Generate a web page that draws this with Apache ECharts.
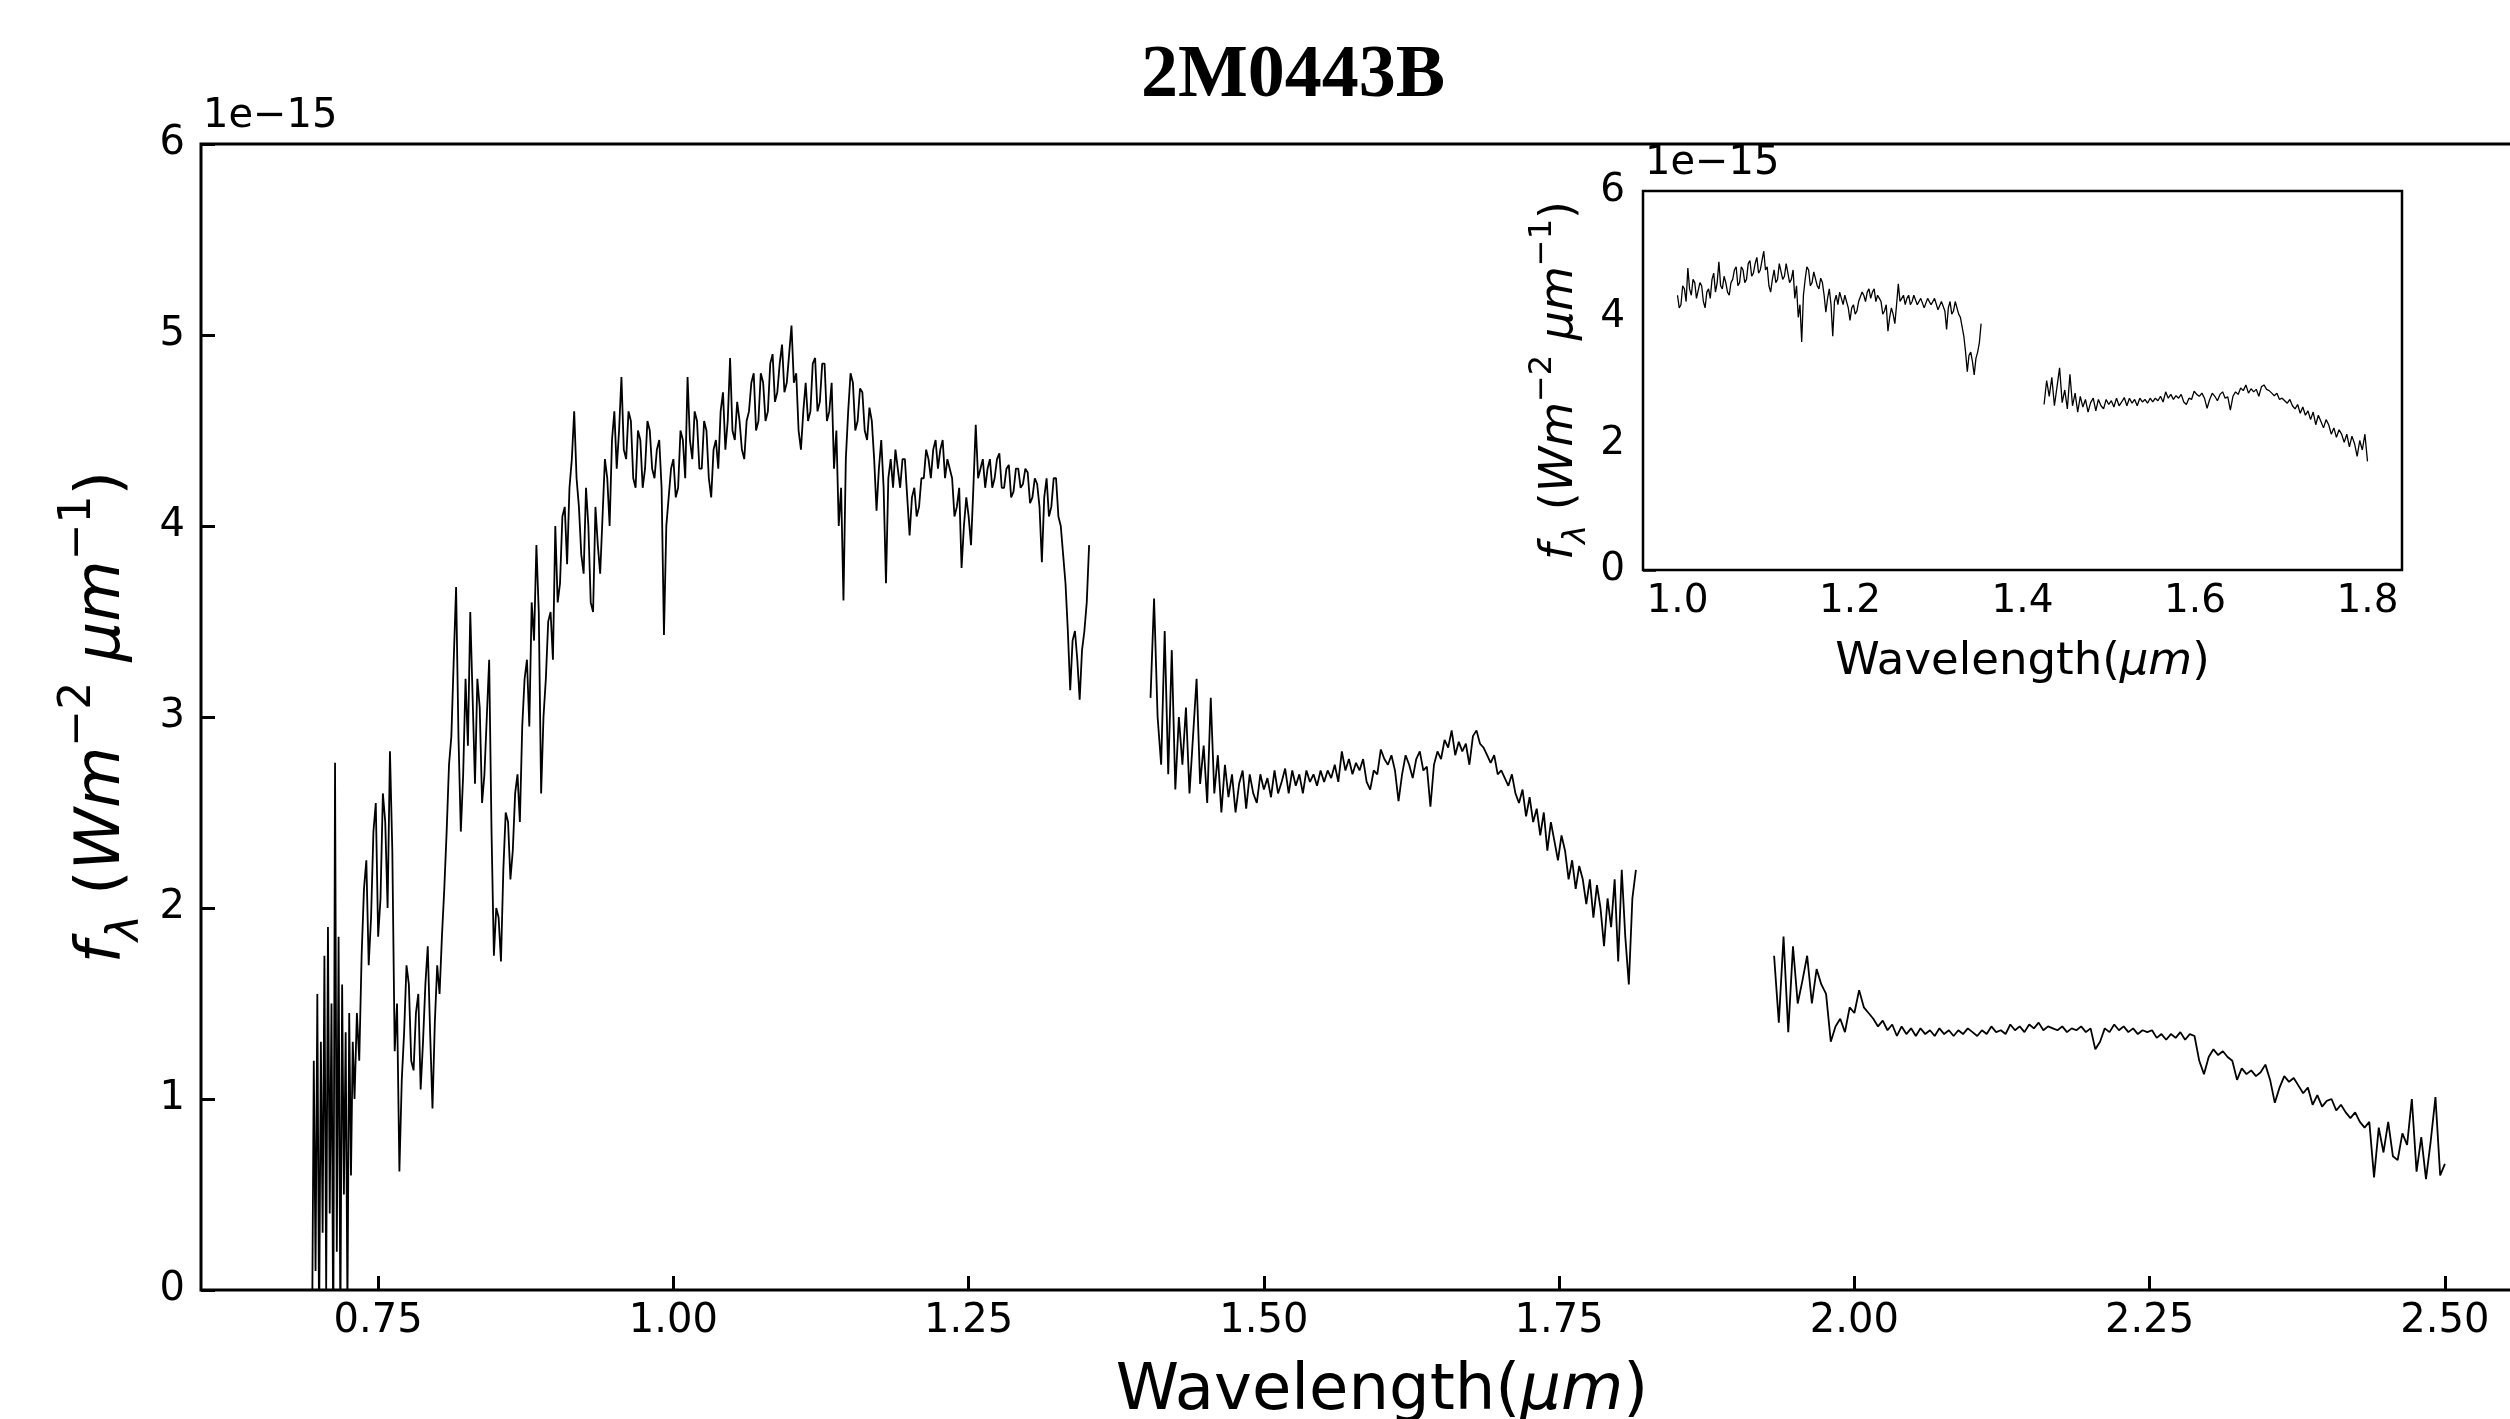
<!DOCTYPE html>
<html>
<head>
<meta charset="utf-8">
<script src="https://cdn.jsdelivr.net/npm/echarts@6/dist/echarts.min.js"></script>
<style>
html,body{margin:0;padding:0;background:#ffffff;}
#chart{width:2510px;height:1419px;}
</style>
</head>
<body>
<div id="chart"></div>
<script>
// ---------------- DATA ----------------
const chartTitle = '2M0443B';
const offsetLabel = '1e\u221215';
const mainXTicks = [0.75, 1.00, 1.25, 1.50, 1.75, 2.00, 2.25, 2.50];
const insetXTicks = [1.0, 1.2, 1.4, 1.6, 1.8];

// flux in units of 1e-15 W m^-2 um^-1, wavelength grid = start + i*step (um)
const seg1aStart = 0.694, seg1aStep = 0.0015;
const seg1a = [-0.3, 1.2, 0.1, 1.55, -0.2, 1.3, 0.3, 1.75, 0.0, 1.9,
  0.4, 1.5, -0.3, 2.76, 0.2, 1.85, -0.2, 1.6, 0.5, 1.35,
  -0.1, 1.45, 0.6, 1.3, 1.0];

const seg1bStart = 0.732, seg1bStep = 0.002;
const seg1b = [
  1.45, 1.2, 1.75, 2.1, 2.25, 1.7, 1.95, 2.4, 2.55, 1.85,
  2.05, 2.6, 2.45, 2.0, 2.82, 2.3, 1.25, 1.5, 0.62, 1.1,
  1.35, 1.7, 1.6, 1.2, 1.15, 1.45, 1.55, 1.05, 1.3, 1.6,
  1.8, 1.35, 0.95, 1.4, 1.7, 1.55, 1.85, 2.1, 2.4, 2.75,
  2.9, 3.3, 3.68, 2.9, 2.4, 2.7, 3.2, 2.85, 3.55, 3.1,
  2.65, 3.2, 3.05, 2.55, 2.7, 3.0, 3.3, 2.4, 1.75, 2.0,
  1.95, 1.72, 2.2, 2.5, 2.45, 2.15, 2.3, 2.6, 2.7, 2.45,
  2.95, 3.2, 3.3, 2.95, 3.6, 3.4, 3.9, 3.55, 2.6, 3.0,
  3.2, 3.5, 3.55, 3.3, 4.0, 3.6, 3.7, 4.05, 4.1, 3.8,
  4.2, 4.35, 4.6, 4.25, 4.1, 3.85, 3.75, 4.2, 4.0, 3.6,
  3.55, 4.1, 3.9, 3.75, 4.05, 4.35, 4.25, 4.0, 4.45, 4.6,
  4.3, 4.5, 4.78, 4.4, 4.35, 4.6, 4.55, 4.25, 4.2, 4.5,
  4.45, 4.2, 4.3, 4.55, 4.5, 4.3, 4.25, 4.4, 4.45, 4.2,
  3.43, 4.0, 4.15, 4.3, 4.35, 4.15, 4.2, 4.5, 4.45, 4.25,
  4.78, 4.45, 4.35, 4.6, 4.55, 4.3, 4.3, 4.55, 4.5, 4.25,
  4.15, 4.4, 4.45, 4.3, 4.6, 4.7, 4.4, 4.55, 4.88, 4.5,
  4.45, 4.65, 4.55, 4.4, 4.35, 4.55, 4.6, 4.75, 4.8, 4.5,
  4.55, 4.8, 4.75, 4.55, 4.6, 4.85, 4.9, 4.65, 4.7, 4.85,
  4.95, 4.7, 4.75, 4.9, 5.05, 4.75, 4.8, 4.5, 4.4, 4.6,
  4.75, 4.55, 4.6, 4.85, 4.88, 4.6, 4.65, 4.85, 4.85, 4.55,
  4.6, 4.75, 4.3, 4.5, 4.0, 4.2, 3.61, 4.35, 4.6, 4.8,
  4.75, 4.5, 4.55, 4.72, 4.7, 4.5, 4.45, 4.62, 4.55, 4.35,
  4.08, 4.3, 4.45, 4.2, 3.7, 4.25, 4.35, 4.2, 4.4, 4.3,
  4.2, 4.35, 4.35, 4.15, 3.95, 4.15, 4.2, 4.05, 4.1, 4.25,
  4.25, 4.4, 4.35, 4.25, 4.4, 4.45, 4.3, 4.4, 4.45, 4.25,
  4.35, 4.3, 4.25, 4.05, 4.1, 4.2, 3.78, 4.0, 4.15, 4.05,
  3.9, 4.2, 4.53, 4.25, 4.3, 4.35, 4.2, 4.3, 4.35, 4.2,
  4.25, 4.35, 4.38, 4.2, 4.2, 4.3, 4.32, 4.15, 4.18, 4.3,
  4.3, 4.2, 4.22, 4.3, 4.28, 4.12, 4.15, 4.25, 4.22, 4.1,
  3.81, 4.15, 4.25, 4.05, 4.1, 4.25, 4.25, 4.05, 4.0, 3.85,
  3.7, 3.45, 3.14, 3.4, 3.45, 3.3, 3.09, 3.35, 3.45, 3.6,
  3.9];

const seg2Start = 1.404, seg2Step = 0.003;
const seg2 = [
  3.1, 3.62, 3.0, 2.75, 3.45, 2.7, 3.35, 2.62, 3.0, 2.75,
  3.05, 2.6, 2.9, 3.2, 2.65, 2.85, 2.55, 3.1, 2.6, 2.8,
  2.5, 2.75, 2.58, 2.7, 2.5, 2.65, 2.72, 2.52, 2.7, 2.6,
  2.55, 2.7, 2.62, 2.68, 2.58, 2.72, 2.6, 2.66, 2.73, 2.6,
  2.72, 2.64, 2.7, 2.6, 2.72, 2.66, 2.7, 2.64, 2.72, 2.66,
  2.72, 2.68, 2.75, 2.66, 2.82, 2.72, 2.78, 2.7, 2.76, 2.72,
  2.78, 2.66, 2.62, 2.72, 2.7, 2.83, 2.78, 2.75, 2.8, 2.72,
  2.56, 2.7, 2.8, 2.75, 2.68, 2.78, 2.82, 2.72, 2.74, 2.53,
  2.75, 2.82, 2.78, 2.88, 2.84, 2.93, 2.8, 2.87, 2.82, 2.86,
  2.75, 2.9, 2.93, 2.86, 2.84, 2.8, 2.76, 2.8, 2.7, 2.72,
  2.68, 2.64, 2.7, 2.6, 2.55, 2.62, 2.48, 2.58, 2.45, 2.52,
  2.38, 2.5, 2.3, 2.45, 2.35, 2.25, 2.38, 2.3, 2.15, 2.25,
  2.1, 2.22, 2.15, 2.02, 2.15, 1.95, 2.12, 2.0, 1.8, 2.05,
  1.9, 2.15, 1.72, 2.2, 1.85, 1.6, 2.05, 2.2];

const seg3Start = 1.932, seg3Step = 0.004;
const seg3 = [
  1.75, 1.4, 1.85, 1.35, 1.8, 1.5, 1.62, 1.75, 1.5, 1.68,
  1.6, 1.55, 1.3, 1.38, 1.42, 1.35, 1.48, 1.45, 1.57, 1.48,
  1.45, 1.42, 1.38, 1.41, 1.36, 1.39, 1.33, 1.38, 1.34, 1.37,
  1.33, 1.37, 1.34, 1.36, 1.33, 1.37, 1.34, 1.36, 1.33, 1.36,
  1.34, 1.37, 1.35, 1.33, 1.36, 1.34, 1.38, 1.35, 1.36, 1.34,
  1.39, 1.36, 1.38, 1.35, 1.39, 1.37, 1.4, 1.36, 1.38, 1.37,
  1.36, 1.38, 1.35, 1.37, 1.36, 1.38, 1.35, 1.37, 1.26, 1.3,
  1.37, 1.35, 1.39, 1.36, 1.38, 1.35, 1.37, 1.34, 1.36, 1.35,
  1.36, 1.32, 1.34, 1.31, 1.34, 1.32, 1.35, 1.31, 1.34, 1.33,
  1.2, 1.13, 1.22, 1.26, 1.23, 1.25, 1.22, 1.2, 1.1, 1.16,
  1.13, 1.15, 1.12, 1.14, 1.18, 1.1, 0.98, 1.06, 1.12, 1.09,
  1.11, 1.07, 1.03, 1.06, 0.97, 1.02, 0.96, 0.99, 1.0, 0.94,
  0.97, 0.93, 0.9, 0.93, 0.88, 0.85, 0.88, 0.59, 0.85, 0.72,
  0.88, 0.7, 0.68, 0.82, 0.76, 1.0, 0.62, 0.8, 0.58, 0.78,
  1.01, 0.6, 0.66];

// wavelength windows plotted in the inset
const insetWindows = [[1.0, 1.352], [1.424, 1.80]];

// ---------------- BUILD ----------------
function toPairs(start, step, vals) {
  return vals.map((v, i) => [+(start + i * step).toFixed(5), v]);
}
const s1 = toPairs(seg1aStart, seg1aStep, seg1a).concat(toPairs(seg1bStart, seg1bStep, seg1b));
const s2 = toPairs(seg2Start, seg2Step, seg2);
const s3 = toPairs(seg3Start, seg3Step, seg3);
const all = [s1, s2, s3];
const insetSeries = insetWindows.map(w => {
  const out = [];
  all.forEach(seg => seg.forEach(p => { if (p[0] >= w[0] - 1e-9 && p[0] <= w[1] + 1e-9) out.push(p); }));
  return out;
});

const FONT = 'DejaVu Sans';
const chart = echarts.init(document.getElementById('chart'), null, {renderer: 'canvas'});

const yNameText = '{it|f}{sub|\u03bb}{n| (}{it|Wm}{sup|\u22122}{n| }{it|\u03bcm}{sup|\u22121}{n|)}';
function yNameStyle(size, small, lh) {
  return {
    fontFamily: FONT, fontSize: size, color: '#000', lineHeight: lh,
    rich: {
      n: {fontFamily: FONT, fontSize: size, color: '#000', lineHeight: lh, verticalAlign: 'middle'},
      it: {fontFamily: FONT, fontSize: size, fontStyle: 'italic', color: '#000', lineHeight: lh, verticalAlign: 'middle'},
      sub: {fontFamily: FONT, fontSize: small, fontStyle: 'italic', color: '#000', verticalAlign: 'bottom'},
      sup: {fontFamily: FONT, fontSize: small, color: '#000', verticalAlign: 'top'}
    }
  };
}
function xNameStyle(size) {
  return {
    fontFamily: FONT, fontSize: size, color: '#000',
    rich: { it: {fontFamily: FONT, fontSize: size, fontStyle: 'italic', color: '#000'} }
  };
}

const option = {
  animation: false,
  backgroundColor: '#ffffff',
  grid: [
    {left: 201, top: 144, width: 2362, height: 1146, show: true, borderColor: '#000', borderWidth: 3,
     backgroundColor: 'transparent', outerBoundsMode: 'none', containLabel: false},
    {left: 1643, top: 191, width: 759, height: 379, show: true, borderColor: '#000', borderWidth: 2.5,
     backgroundColor: '#ffffff', outerBoundsMode: 'none', containLabel: false, z: 5}
  ],
  xAxis: [
    {
      gridIndex: 0, type: 'value', min: 0.6, max: 2.6,
      axisLine: {show: false},
      splitLine: {show: false},
      axisTick: {show: true, inside: true, length: 14, lineStyle: {color: '#000', width: 3}, customValues: mainXTicks},
      axisLabel: {show: true, margin: 12, fontFamily: FONT, fontSize: 40, color: '#000',
        customValues: mainXTicks, formatter: v => v.toFixed(2)},
      name: 'Wavelength({it|\u03bcm})', nameLocation: 'middle', nameGap: 70,
      nameTextStyle: xNameStyle(64)
    },
    {
      gridIndex: 1, type: 'value', min: 0.96, max: 1.84,
      axisLine: {show: false},
      splitLine: {show: false},
      axisTick: {show: true, inside: true, length: 13, lineStyle: {color: '#000', width: 2.5}, customValues: insetXTicks},
      axisLabel: {show: true, margin: 12, fontFamily: FONT, fontSize: 39, color: '#000',
        customValues: insetXTicks, formatter: v => v.toFixed(1)},
      name: 'Wavelength({it|\u03bcm})', nameLocation: 'middle', nameGap: 70,
      nameTextStyle: xNameStyle(45)
    }
  ],
  yAxis: [
    {
      gridIndex: 0, type: 'value', min: 0, max: 6, interval: 1,
      axisLine: {show: false},
      splitLine: {show: false},
      axisTick: {show: true, inside: true, length: 14, lineStyle: {color: '#000', width: 3}},
      axisLabel: {show: true, margin: 16, fontFamily: FONT, fontSize: 40, color: '#000'},
      name: yNameText, nameLocation: 'middle', nameRotate: 90, nameGap: 50,
      nameTextStyle: yNameStyle(63, 44, 92)
    },
    {
      gridIndex: 1, type: 'value', min: 0, max: 6, interval: 2,
      axisLine: {show: false},
      splitLine: {show: false},
      axisTick: {show: true, inside: true, length: 13, lineStyle: {color: '#000', width: 2.5}},
      axisLabel: {show: true, margin: 18, fontFamily: FONT, fontSize: 39, color: '#000'},
      name: yNameText, nameLocation: 'middle', nameRotate: 90, nameGap: 50,
      nameTextStyle: yNameStyle(46, 32, 66)
    }
  ],
  series: [
    {type: 'line', xAxisIndex: 0, yAxisIndex: 0, data: s1, showSymbol: false, symbol: 'none',
     lineStyle: {color: '#000', width: 1.8}, clip: true},
    {type: 'line', xAxisIndex: 0, yAxisIndex: 0, data: s2, showSymbol: false, symbol: 'none',
     lineStyle: {color: '#000', width: 1.8}, clip: true},
    {type: 'line', xAxisIndex: 0, yAxisIndex: 0, data: s3, showSymbol: false, symbol: 'none',
     lineStyle: {color: '#000', width: 1.8}, clip: true},
    {type: 'line', xAxisIndex: 1, yAxisIndex: 1, data: insetSeries[0], showSymbol: false, symbol: 'none',
     lineStyle: {color: '#000', width: 1.3}, clip: true, z: 6},
    {type: 'line', xAxisIndex: 1, yAxisIndex: 1, data: insetSeries[1], showSymbol: false, symbol: 'none',
     lineStyle: {color: '#000', width: 1.3}, clip: true, z: 6}
  ],
  graphic: [
    {type: 'text', x: 1293, y: 77,
     style: {text: chartTitle, align: 'center', verticalAlign: 'middle',
       font: 'bold 74px "Liberation Serif", "DejaVu Serif", serif', fill: '#000'}},
    {type: 'text', x: 203, y: 117,
     style: {text: offsetLabel, align: 'left', verticalAlign: 'middle',
       font: '40px "DejaVu Sans"', fill: '#000'}},
    {type: 'text', x: 1645, y: 164, z: 10,
     style: {text: offsetLabel, align: 'left', verticalAlign: 'middle',
       font: '40px "DejaVu Sans"', fill: '#000'}}
  ]
};
chart.setOption(option);
</script>
</body>
</html>
